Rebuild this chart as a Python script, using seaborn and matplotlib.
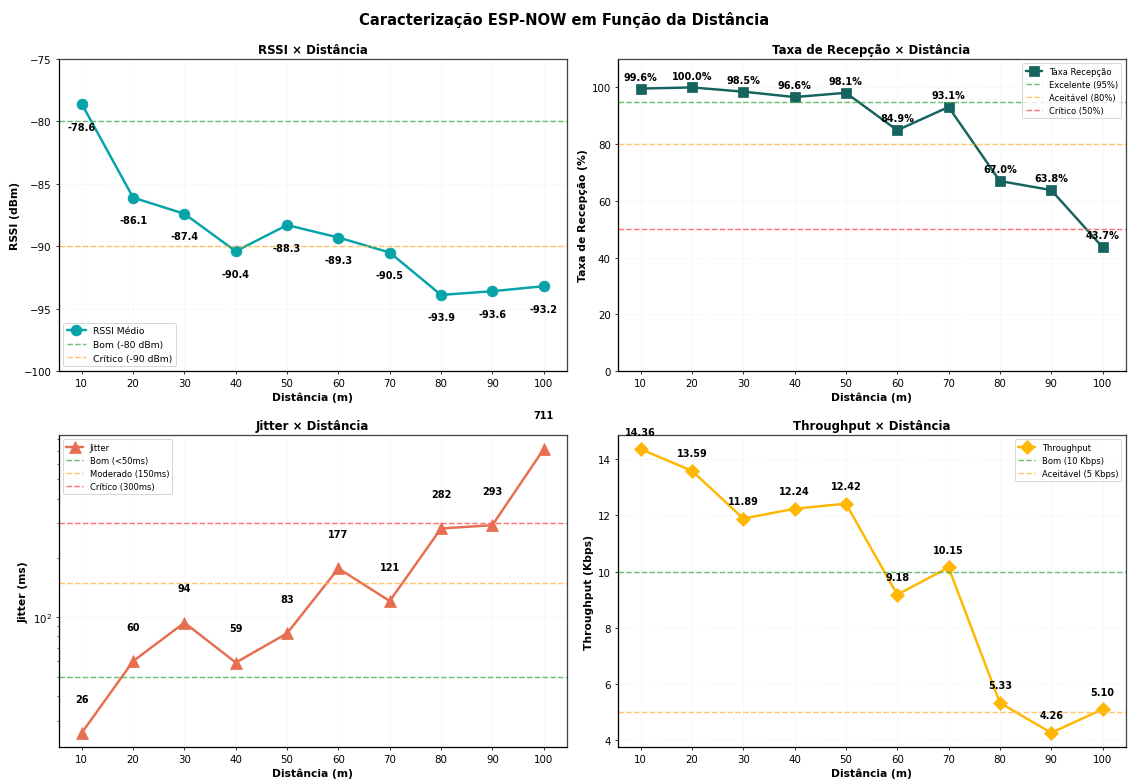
import pandas as pd
import numpy as np
import matplotlib
matplotlib.use("Agg")
import matplotlib.pyplot as plt
import seaborn as sns

sns.set_style("ticks")
plt.rcParams['font.family'] = ['DejaVu Sans']
plt.rcParams['text.color'] = 'black'
plt.rcParams['axes.labelcolor'] = 'black'
plt.rcParams['xtick.color'] = 'black'
plt.rcParams['ytick.color'] = 'black'
plt.rcParams['axes.edgecolor'] = 'black'

# dados
distancias = [10, 20, 30, 40, 50, 60, 70, 80, 90, 100]
rssi = [-78.6, -86.1, -87.4, -90.4, -88.3, -89.3, -90.5, -93.9, -93.6, -93.2]
taxa = [99.6, 100.0, 98.5, 96.6, 98.1, 84.9, 93.1, 67.0, 63.8, 43.7]
jitter = [26, 60, 94, 59, 83, 177, 121, 282, 293, 711]
throughput = [14.36, 13.59, 11.89, 12.24, 12.42, 9.18, 10.15, 5.33, 4.26, 5.10]

df = pd.DataFrame({'dist': distancias, 'rssi': rssi, 'taxa': taxa,
                   'jitter': jitter, 'throughput': throughput})

verde = '#4CAF50'
laranja = '#FFB74D'
vermelho = '#FF5252'

fig, axs = plt.subplots(2, 2, figsize=(16, 11.054), dpi=70.5625)
fig.subplots_adjust(left=0.052, right=0.997, top=0.923, bottom=0.041,
                    wspace=0.1, hspace=0.205)
fig.suptitle('Caracterização ESP-NOW em Função da Distância',
             fontsize=15, fontweight='bold', y=0.985)


def estilo(ax, titulo, ylabel):
    ax.set_title(titulo, fontsize=12, fontweight='bold')
    ax.set_xlabel('Distância (m)', fontsize=11, fontweight='bold')
    ax.set_ylabel(ylabel, fontsize=11, fontweight='bold')
    ax.set_xticks(distancias)
    ax.tick_params(labelsize=10.5)
    ax.grid(True, linestyle=':', alpha=0.4)
    for s in ['top', 'right']:
        ax.spines[s].set_color('#444444')
    for s in ax.spines.values():
        s.set_linewidth(1.3)


def rotulos(ax, valores, fmt, dy):
    for x, y in zip(distancias, valores):
        ax.annotate(fmt.format(y), (x, y), xytext=(0, dy), textcoords='offset points',
                    ha='center', va='center', fontsize=10, fontweight='bold',
                    annotation_clip=False)


# RSSI
ax = axs[0, 0]
sns.lineplot(data=df, x='dist', y='rssi', ax=ax, color='#06A3A8', linewidth=2.5,
             marker='o', markersize=11, markeredgecolor='#06A3A8', label='RSSI Médio')
ax.axhline(-80, color=verde, linestyle='--', linewidth=1.5, alpha=0.8, label='Bom (-80 dBm)')
ax.axhline(-90, color=laranja, linestyle='--', linewidth=1.5, alpha=0.8, label='Crítico (-90 dBm)')
ax.set_ylim(-100, -75)
rotulos(ax, rssi, '{:.1f}', -23)
estilo(ax, 'RSSI × Distância', 'RSSI (dBm)')
ax.legend(loc='lower left', fontsize=9.5)

# Taxa de recepção
ax = axs[0, 1]
sns.lineplot(data=df, x='dist', y='taxa', ax=ax, color='#16645F', linewidth=2.5,
             marker='s', markersize=10, markeredgecolor='#16645F', label='Taxa Recepção')
ax.axhline(95, color=verde, linestyle='--', linewidth=1.5, alpha=0.8, label='Excelente (95%)')
ax.axhline(80, color=laranja, linestyle='--', linewidth=1.5, alpha=0.8, label='Aceitável (80%)')
ax.axhline(50, color=vermelho, linestyle='--', linewidth=1.5, alpha=0.8, label='Crítico (50%)')
ax.set_ylim(0, 110)
rotulos(ax, taxa, '{:.1f}%', 12)
estilo(ax, 'Taxa de Recepção × Distância', 'Taxa de Recepção (%)')
ax.legend(loc='upper right', fontsize=8.5)

# Jitter
ax = axs[1, 0]
sns.lineplot(data=df, x='dist', y='jitter', ax=ax, color='#E76F51', linewidth=2.5,
             marker='^', markersize=12, markeredgecolor='#E76F51', label='Jitter')
ax.axhline(50, color=verde, linestyle='--', linewidth=1.5, alpha=0.8, label='Bom (<50ms)')
ax.axhline(150, color=laranja, linestyle='--', linewidth=1.5, alpha=0.8, label='Moderado (150ms)')
ax.axhline(300, color=vermelho, linestyle='--', linewidth=1.5, alpha=0.8, label='Crítico (300ms)')
ax.set_yscale('log')
rotulos(ax, jitter, '{:.0f}', 35)
estilo(ax, 'Jitter × Distância', 'Jitter (ms)')
ax.legend(loc='upper left', fontsize=8.5)

# Throughput
ax = axs[1, 1]
sns.lineplot(data=df, x='dist', y='throughput', ax=ax, color='#FFB703', linewidth=2.5,
             marker='D', markersize=10, markeredgecolor='#FFB703', label='Throughput')
ax.axhline(10, color=verde, linestyle='--', linewidth=1.5, alpha=0.8, label='Bom (10 Kbps)')
ax.axhline(5, color=laranja, linestyle='--', linewidth=1.5, alpha=0.8, label='Aceitável (5 Kbps)')
rotulos(ax, throughput, '{:.2f}', 18)
estilo(ax, 'Throughput × Distância', 'Throughput (Kbps)')
ax.legend(loc='upper right', fontsize=8.5)

plt.savefig('out.png')
